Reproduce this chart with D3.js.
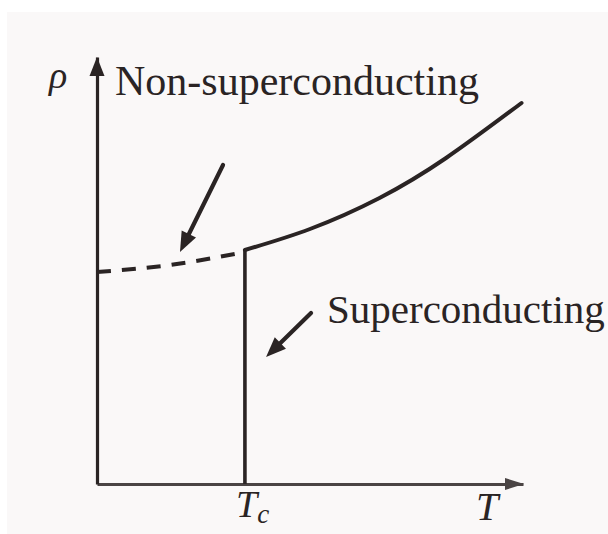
<!DOCTYPE html>
<html>
<head>
<meta charset="utf-8">
<script src="https://cdn.jsdelivr.net/npm/d3@7/dist/d3.min.js"></script>
<style>
  html, body { margin: 0; padding: 0; background: #ffffff; }
  svg { display: block; }
  text { font-family: "Liberation Serif", "Times New Roman", serif; fill: #2a2424; }
</style>
</head>
<body>
<svg id="chart" width="608" height="534"></svg>
<script>
// Resistivity vs. temperature for a superconductor (schematic units)
const tNormal   = [1.0, 1.44, 1.91, 2.36, 2.87];          // normal-state branch above Tc
const rhoNormal = [2.34, 2.55, 2.86, 3.26, 3.81];
const tDashed   = [0.0, 0.49, 1.0];                       // extrapolated normal state below Tc
const rhoDashed = [2.12, 2.19, 2.32];
const Tc = 1.0;
const tMax = 2.88;
const rhoMax = 4.27;

const axisLabels = { y: "ρ", x: "T", tc: ["T", "c"] };
const regionLabels = ["Non-superconducting", "Superconducting"];
// annotation pointers: [tail T, tail ρ, tip T, tip ρ]
const pointerNormal = [0.852, 3.19, 0.561, 2.32];
const pointerSuper  = [1.447, 1.71, 1.143, 1.27];

const svg = d3.select("#chart");
const ink = "#2a2424";

// page background
svg.append("rect").attr("x", 7).attr("y", 12).attr("width", 601).attr("height", 522)
  .attr("fill", "#faf8f8");

const x = d3.scaleLinear().domain([0, tMax]).range([97, 523]);
const y = d3.scaleLinear().domain([0, rhoMax]).range([484, 57]);

// axes: bare domain lines
const gx = svg.append("g").attr("transform", `translate(0,${y(0)})`)
  .call(d3.axisBottom(x).tickValues([]).tickSizeOuter(0));
gx.select(".domain").attr("stroke", "#4a4444").attr("stroke-width", 3);
const gy = svg.append("g").attr("transform", `translate(${x(0)},0)`)
  .call(d3.axisLeft(y).tickValues([]).tickSizeOuter(0));
gy.select(".domain").attr("stroke", ink).attr("stroke-width", 3.2);

function arrowHead(x1, y1, x2, y2, len, half, fill) {
  const a = Math.atan2(y2 - y1, x2 - x1);
  const bx = x2 - len * Math.cos(a), by = y2 - len * Math.sin(a);
  const nx = -Math.sin(a) * half, ny = Math.cos(a) * half;
  svg.append("path")
    .attr("d", `M${x2},${y2}L${bx + nx},${by + ny}L${bx - nx},${by - ny}Z`)
    .attr("fill", fill);
}
arrowHead(x(0), y(0), x(tMax) + 1, y(0), 19, 6, "#4a4444");
arrowHead(x(0), y(0), x(0), y(rhoMax), 19, 7.5, ink);

// superconducting transition: drop to zero at Tc
svg.append("line")
  .attr("x1", x(Tc)).attr("x2", x(Tc))
  .attr("y1", y(0)).attr("y2", y(rhoNormal[0]))
  .attr("stroke", ink).attr("stroke-width", 3.6);

const line = d3.line().curve(d3.curveNatural);

// normal-state resistivity above Tc
svg.append("path")
  .attr("d", line(tNormal.map((t, i) => [x(t), y(rhoNormal[i])])))
  .attr("fill", "none").attr("stroke", ink).attr("stroke-width", 4)
  .attr("stroke-linejoin", "round").attr("stroke-linecap", "round");

// extrapolated normal-state resistivity (dashed)
svg.append("path")
  .attr("d", line(tDashed.map((t, i) => [x(t), y(rhoDashed[i])])))
  .attr("fill", "none").attr("stroke", ink).attr("stroke-width", 4)
  .attr("stroke-dasharray", "14,11");

// pointer arrows
[pointerNormal, pointerSuper].forEach(p => {
  const x1 = x(p[0]), y1 = y(p[1]), x2 = x(p[2]), y2 = y(p[3]);
  const a = Math.atan2(y2 - y1, x2 - x1);
  svg.append("line")
    .attr("x1", x1).attr("y1", y1)
    .attr("x2", x2 - 14 * Math.cos(a)).attr("y2", y2 - 14 * Math.sin(a))
    .attr("stroke", ink).attr("stroke-width", 4.2).attr("stroke-linecap", "round");
  arrowHead(x1, y1, x2, y2, 20, 8, ink);
});

// labels
svg.append("text").attr("x", 49).attr("y", 88)
  .attr("font-size", 38).attr("font-style", "italic").text(axisLabels.y);
svg.append("text").attr("x", 115).attr("y", 95)
  .attr("font-size", 42).text(regionLabels[0]);
svg.append("text").attr("x", 327).attr("y", 323)
  .attr("font-size", 41).text(regionLabels[1]);

const tc = svg.append("text").attr("x", 236).attr("y", 517)
  .attr("font-size", 38).attr("font-style", "italic");
tc.append("tspan").text(axisLabels.tc[0]);
tc.append("tspan").attr("font-size", 27).attr("dy", 6).text(axisLabels.tc[1]);

svg.append("text").attr("x", 476).attr("y", 520)
  .attr("font-size", 40).attr("font-style", "italic").text(axisLabels.x);
</script>
</body>
</html>
